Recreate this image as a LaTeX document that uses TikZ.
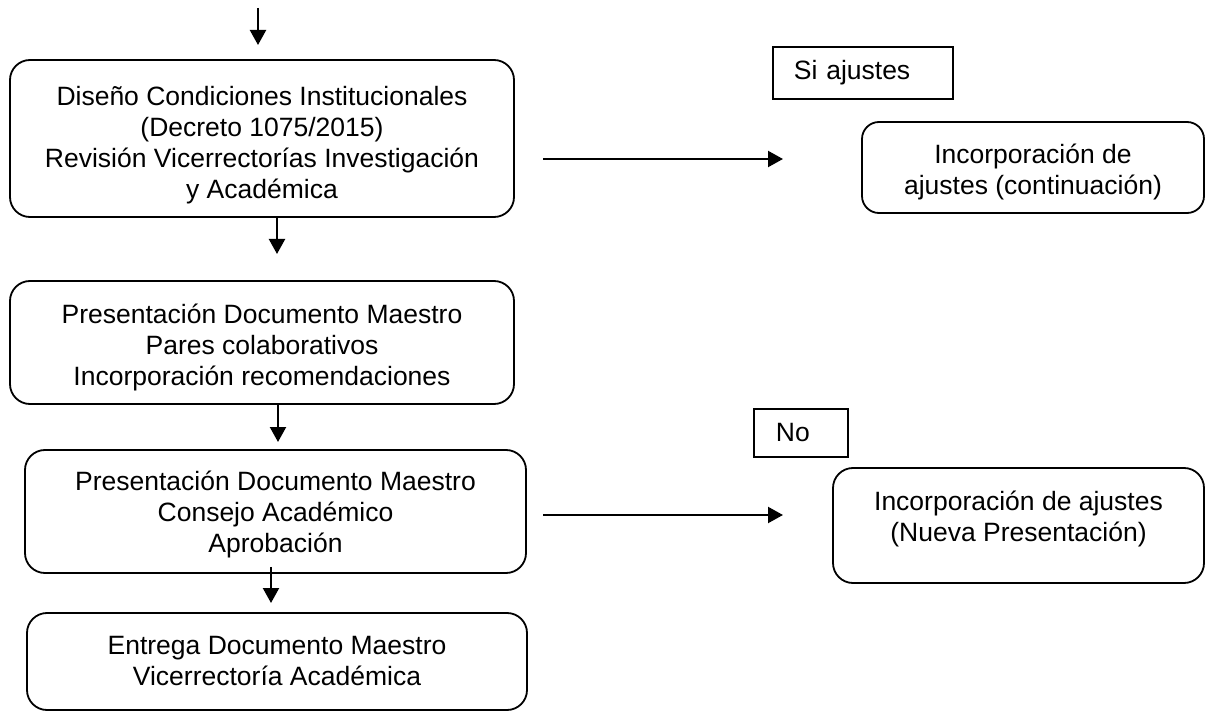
\documentclass[tikz,border=0pt]{standalone}
\usepackage{fontspec}
\setmainfont{Liberation Sans}
\usetikzlibrary{arrows.meta}
\begin{document}
\begin{tikzpicture}[x=1pt,y=-1pt,
  flowbox/.style={draw, line width=1.8pt, rounded corners=20pt, inner sep=0pt},
  tagbox/.style={draw, line width=1.8pt, align=left, anchor=north west,
    font=\fontsize{26.5}{31}\selectfont, inner ysep=0pt},
  txt/.style={align=center, font=\fontsize{26.5}{31}\selectfont, inner sep=0pt},
  arr/.style={line width=2.2pt, -{Triangle[length=15pt,width=16pt]}}
]
\useasboundingbox (0,0) rectangle (1208,711);

% main column boxes
\node[flowbox, minimum width=504pt, minimum height=157pt] (b1) at (262,138.5) {};
\node[txt] (b1t) at (262,145.5)
  {Diseño Condiciones Institucionales\\(Decreto 1075/2015)\\Revisión Vicerrectorías Investigación\\y Académica};
\node[flowbox, minimum width=504pt, minimum height=123pt] (b2) at (262,342.5) {};
\node[txt] (b2t) at (262,347.5)
  {Presentación Documento Maestro\\Pares colaborativos\\Incorporación recomendaciones};
\node[flowbox, minimum width=501pt, minimum height=123pt] (b3) at (275.5,511.5) {};
\node[txt] (b3t) at (275.5,514.5)
  {Presentación Documento Maestro\\Consejo Académico\\Aprobación};
\node[flowbox, minimum width=500pt, minimum height=97pt] (b4) at (277,661.5) {};
\node[txt] (b4t) at (277,661.5)
  {Entrega Documento Maestro\\Vicerrectoría Académica};

% right column boxes
\node[flowbox, rounded corners=17pt, minimum width=342pt, minimum height=91pt] (r1) at (1033,167.5) {};
\node[txt] (r1t) at (1033,172)
  {Incorporación de\\ajustes (continuación)};
\node[flowbox, minimum width=371pt, minimum height=115pt] (r2) at (1018.5,525.5) {};
\node[txt] (r2t) at (1018.5,519)
  {Incorporación de ajustes\\(Nueva Presentación)};

% tags
\node[tagbox, inner xsep=21pt, text width=138pt, minimum height=52pt] (si) at (772,46) {Si ajustes};
\node[tagbox, inner xsep=22pt, text width=50pt, minimum height=48pt] (no) at (753,408) {No};

% connectors
\coordinate (t0) at (258,8);
\coordinate (t1) at (258,45);
\draw[arr] (t0) -- (t1);

\coordinate (c12) at (277,254);
\draw[arr] (b1.south -| c12) -- (c12);

\coordinate (c23) at (278,442);
\draw[arr] (b2.south -| c23) -- (c23);

\coordinate (c34) at (271,603);
\draw[arr] ([yshift=7pt]b3.south -| c34) -- (c34);

\coordinate (h1s) at (543,159);
\coordinate (h1e) at (783,159);
\draw[arr] (h1s) -- (h1e);

\coordinate (h2s) at (543,515);
\coordinate (h2e) at (783,515);
\draw[arr] (h2s) -- (h2e);
\end{tikzpicture}
\end{document}
